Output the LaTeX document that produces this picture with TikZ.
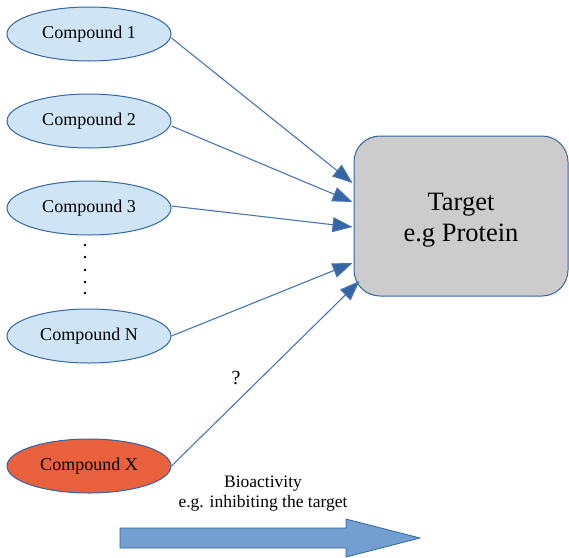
\documentclass[tikz,border=0pt]{standalone}
\usepackage{fontspec}
\setmainfont{Liberation Serif}
\usetikzlibrary{arrows.meta,shapes.geometric}
\definecolor{edgeblue}{HTML}{3465A4}
\definecolor{lineblue}{HTML}{4A74B4}
\definecolor{ellfill}{HTML}{CFE5F5}
\definecolor{xfill}{HTML}{E8603C}
\definecolor{tgray}{HTML}{CCCCCC}
\definecolor{bigarrow}{HTML}{729FCF}
\tikzset{
  compound/.style={ellipse, draw=edgeblue, line width=1pt, fill=ellfill, minimum width=164pt, minimum height=54pt, inner sep=0pt, font=\fontsize{18}{21}\selectfont},
  targetbox/.style={rectangle, rounded corners=26pt, draw=edgeblue, line width=1pt, fill=tgray, minimum width=214pt, minimum height=160pt},
  conn/.style={draw=lineblue, line width=1.1pt, -{Triangle[length=20pt,width=15pt,fill=edgeblue]}},
  dotmark/.style={circle, fill=black, inner sep=0pt, minimum size=2.6pt}
}
\begin{document}
\begin{tikzpicture}[x=1pt,y=-1pt]
\useasboundingbox (0,0) rectangle (569,557);
\node[compound] (c1) at (89,34) {Compound 1};
\node[compound] (c2) at (89,121) {Compound 2};
\node[compound] (c3) at (89,208) {Compound 3};
\node[compound] (cn) at (89,336) {Compound N};
\node[compound, fill=xfill] (cx) at (89,466) {Compound X};
\node[targetbox] (t) at (461,216) {};
\node[align=center, font=\fontsize{26.5}{31}\selectfont] (tl) at (461,220) {Target\\e.g Protein};
\foreach \yy [count=\i] in {245,257,270,282,293} \node[dotmark] (d\i) at (85,\yy) {};
\draw[conn] ([yshift=-4pt]c1.east) -- ([yshift=33pt,xshift=-1pt]t.west);
\draw[conn] ([yshift=-5pt]c2.east) -- ([yshift=14pt,xshift=-1pt]t.west);
\draw[conn] ([yshift=2pt]c3.east) -- ([yshift=-11pt,xshift=-1pt]t.west);
\draw[conn] (cn.east) -- ([yshift=-47pt,xshift=-1pt]t.west);
\draw[conn] (cx.east) -- ([yshift=-65pt,xshift=6pt]t.west);
\node[font=\fontsize{20}{24}\selectfont] (q) at (236,378) {?};
\node[align=center, font=\fontsize{17.5}{20}\selectfont] (bio) at (263,494) {Bioactivity\\e.g. inhibiting the target};
\filldraw[draw=edgeblue, fill=bigarrow, line width=0.8pt] (120,528) -- (346,528) -- (346,519) -- (420,538) -- (346,557) -- (346,548) -- (120,548) -- cycle;
\end{tikzpicture}
\end{document}
